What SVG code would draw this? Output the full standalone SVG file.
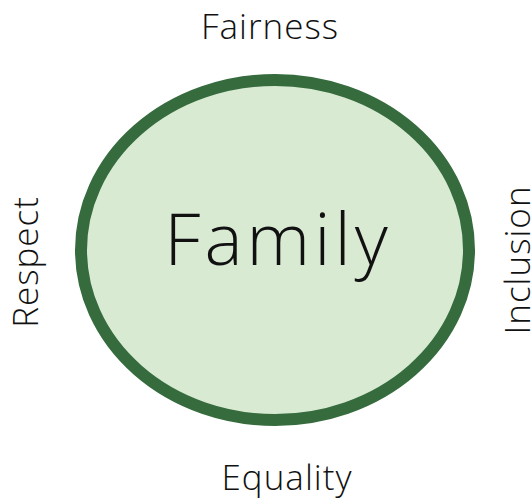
<svg xmlns="http://www.w3.org/2000/svg" width="532" height="499" viewBox="0 0 532 499">
<style>
.t{font-family:"Open Sans","Liberation Sans",sans-serif;font-weight:300;fill:#111;text-anchor:middle}
.s{font-size:35px;letter-spacing:1px}
</style>
<rect width="532" height="499" fill="#fff"/>
<g id="family">
<ellipse cx="275" cy="250" rx="194" ry="170" fill="#d9ead3" stroke="#356b3d" stroke-width="12"/>
<text class="t" x="278" y="265" font-size="72" letter-spacing="4">Family</text>
</g>
<g id="fairness"><text class="t s" x="270" y="39">Fairness</text></g>
<g id="equality"><text class="t s" x="287" y="490">Equality</text></g>
<g id="respect"><text class="t s" transform="translate(38,262) rotate(-90)">Respect</text></g>
<g id="inclusion"><text class="t s" transform="translate(530,260) rotate(-90)">Inclusion</text></g>
<g id="connectors"/>
</svg>
